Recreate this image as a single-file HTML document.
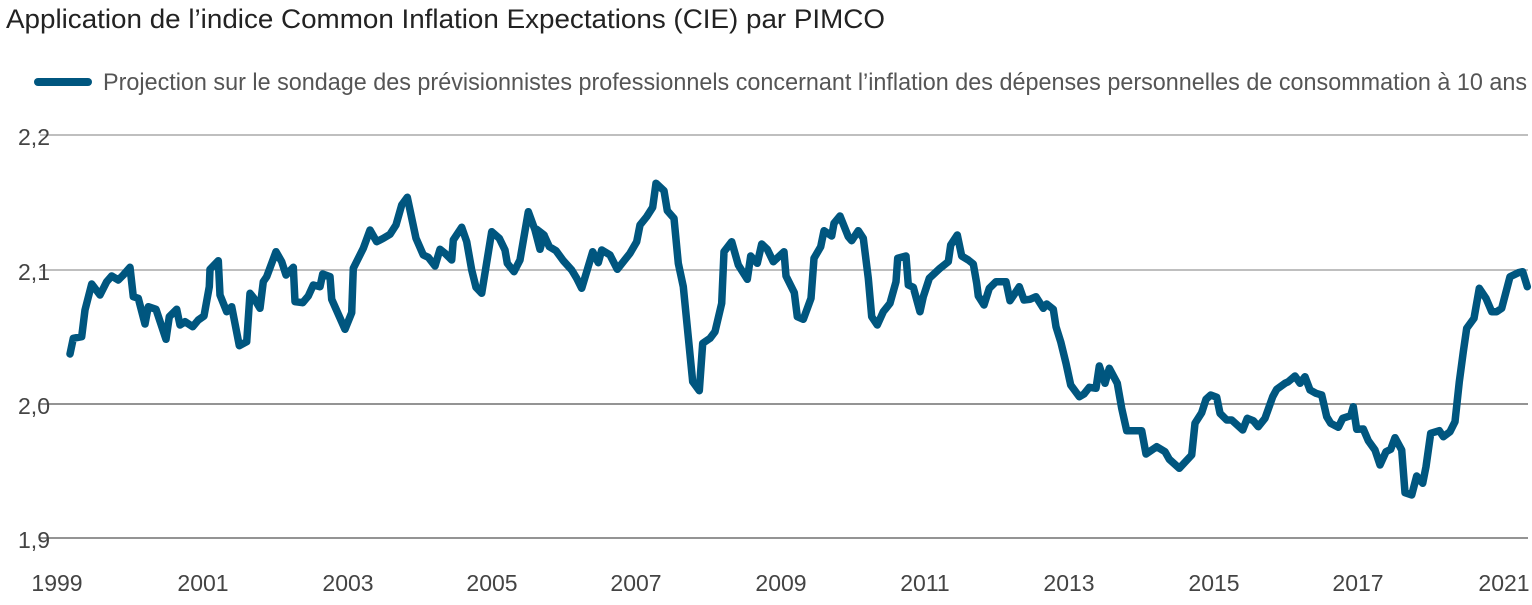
<!DOCTYPE html>
<html><head><meta charset="utf-8"><style>
body{margin:0;background:#fff;width:1532px;height:600px;overflow:hidden}
svg text{font-family:"Liberation Sans Narrow","Liberation Sans",sans-serif}
</style></head><body>
<svg id="s" width="1532" height="600" viewBox="0 0 1532 600">
<text x="6" y="28" font-size="27" fill="#222" textLength="879" lengthAdjust="spacingAndGlyphs">Application de l’indice Common Inflation Expectations (CIE) par PIMCO</text>
<line x1="38" y1="82" x2="88" y2="82" stroke="#00567f" stroke-width="8" stroke-linecap="round"/>
<text x="103" y="90" font-size="24" fill="#555" textLength="1424" lengthAdjust="spacingAndGlyphs">Projection sur le sondage des prévisionnistes professionnels concernant l’inflation des dépenses personnelles de consommation à 10 ans</text>
<g stroke="#999" stroke-width="1.3">
<line x1="40" y1="135" x2="1528" y2="135"/>
<line x1="40" y1="270" x2="1528" y2="270"/>
<line x1="40" y1="404" x2="1528" y2="404" stroke="#555"/>
<line x1="40" y1="538" x2="1528" y2="538" stroke="#555"/>
</g>
<g font-size="23" fill="#444" text-anchor="end">
<text x="50" y="145">2,2</text><text x="50" y="280">2,1</text><text x="50" y="414">2,0</text><text x="50" y="548">1,9</text>
</g>
<g font-size="23" fill="#444" text-anchor="middle">
<text x="57" y="591">1999</text><text x="203" y="591">2001</text><text x="348" y="591">2003</text><text x="492" y="591">2005</text><text x="636" y="591">2007</text><text x="781" y="591">2009</text><text x="925" y="591">2011</text><text x="1069" y="591">2013</text><text x="1214" y="591">2015</text><text x="1358" y="591">2017</text><text x="1504" y="591">2021</text>
</g>
<polyline id="p" fill="none" stroke="#00567f" stroke-width="7.5" stroke-linejoin="round" stroke-linecap="round" points=""/>
</svg>
<script>
var a=[[120,552],[130,505],[155,500],[165,420],[185,342],[210,375],[230,335],[245,318],[265,330],[280,315],[300,292],[310,380],[325,385],[345,462],[355,410],[378,418],[408,508],[418,440],[440,418],[450,465],[465,455],[488,470],[505,450],[522,438],[538,350],[540,298],[565,272],[570,375],[590,425],[605,410],[628,527],[650,515],[660,370],[672,385],[690,415],[700,335],[710,320],[738,245],[755,275],[768,315],[790,292],[795,395],[818,398],[835,378],[850,345],[870,350],[878,312],[900,320],[905,388],[945,478],[965,428],[970,295],[1000,235],[1020,180],[1040,215],[1060,205],[1080,193],[1098,165],[1115,105],[1132,82],[1158,205],[1180,255],[1195,262],[1215,288],[1230,238],[1245,250],[1265,270],[1270,210],[1295,172],[1310,215],[1325,300],[1338,352],[1355,370],[1385,185],[1408,205],[1425,240],[1432,280],[1452,305],[1470,270],[1480,212],[1495,125],[1515,180],[1530,238],[1542,195]];
var b=[[20,178],[30,238],[42,195],[58,230],[78,242],[100,272],[125,300],[140,325],[155,355],[188,245],[205,278],[215,240],[240,255],[262,298],[300,250],[320,215],[330,165],[350,140],[368,112],[378,40],[402,62],[412,122],[432,145],[445,280],[460,350],[488,635],[508,662],[518,520],[540,505],[555,485],[575,400],[582,245],[605,215],[625,285],[652,328],[662,258],[682,280],[695,222],[712,238],[730,275],[762,245],[768,318],[793,368],[802,440],[820,448],[843,385],[852,265],[872,230],[882,182],[905,198],[912,160],[930,138],[955,200],[965,212],[985,182],[1000,205],[1015,325],[1025,440],[1042,465],[1060,425],[1080,400],[1098,335],[1103,265],[1128,258],[1135,345],[1150,352],[1170,425],[1180,380],[1198,325],[1230,295],[1255,275],[1262,225],[1282,195],[1295,258],[1315,270],[1330,282],[1340,340],[1345,378],[1362,405],[1378,355],[1398,335],[1428,335],[1440,392],[1468,350],[1482,390],[1500,388],[1518,380],[1540,415]];
var c=[[80,162],[100,178],[108,230],[122,275],[138,340],[152,405],[178,440],[192,432],[208,412],[228,415],[238,348],[255,400],[268,355],[292,400],[305,475],[320,542],[365,542],[378,612],[410,590],[435,605],[448,628],[478,655],[515,615],[525,520],[545,488],[558,448],[572,435],[590,442],[600,490],[620,510],[635,510],[668,540],[682,505],[700,512],[715,530],[735,505],[758,440],[770,418],[795,400],[805,395],[825,378],[840,400],[855,380],[870,420],[888,430],[905,435],[920,500],[932,520],[955,532],[968,505],[992,497],[1000,470],[1010,538],[1030,537],[1045,572],[1065,600],[1080,645],[1098,605],[1112,598],[1125,563],[1145,600],[1155,728],[1175,735],[1190,678],[1208,700],[1218,650],[1232,550],[1258,542],[1270,560],[1290,545],[1305,515],[1318,395],[1330,305],[1340,235],[1362,205],[1378,115],[1398,145],[1415,185],[1430,185],[1445,175],[1470,80],[1495,68],[1508,65],[1522,110]];
var pts=[];
a.forEach(function(p){pts.push((30+p[0]/3).toFixed(1)+","+(170+p[1]/3).toFixed(1))});
b.forEach(function(p){pts.push((530+p[0]/3).toFixed(1)+","+(170+p[1]/3).toFixed(1))});
c.forEach(function(p){pts.push((1020+p[0]/3).toFixed(1)+","+(250+p[1]/3).toFixed(1))});
document.getElementById("p").setAttribute("points",pts.join(" "));
</script>
</body></html>
